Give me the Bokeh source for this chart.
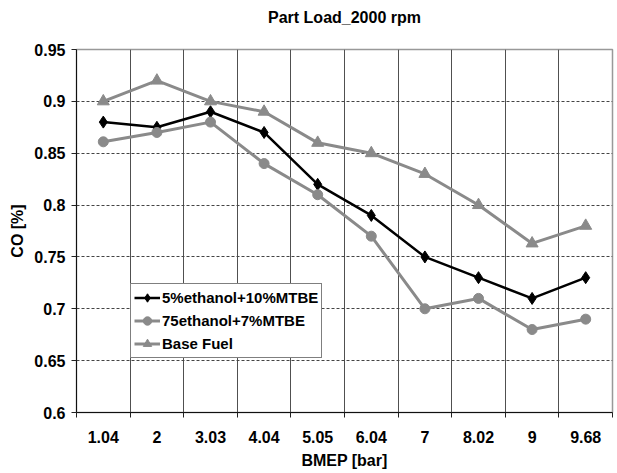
from bokeh.plotting import figure
from bokeh.models import FixedTicker, Range1d, Legend, LegendItem, Title
from bokeh.embed import file_html
from bokeh.resources import INLINE

categories = ["1.04", "2", "3.03", "4.04", "5.05", "6.04", "7", "8.02", "9", "9.68"]
s_mtbe10 = [0.88, 0.875, 0.89, 0.87, 0.82, 0.79, 0.75, 0.73, 0.71, 0.73]
s_mtbe7 = [0.861, 0.87, 0.88, 0.84, 0.81, 0.77, 0.70, 0.71, 0.68, 0.69]
s_base = [0.90, 0.92, 0.90, 0.89, 0.86, 0.85, 0.83, 0.80, 0.763, 0.78]
y_ticks = [0.6, 0.65, 0.7, 0.75, 0.8, 0.85, 0.9, 0.95]
y_labels = ["0.6", "0.65", "0.7", "0.75", "0.8", "0.85", "0.9", "0.95"]

n = len(categories)
xs = [i + 0.5 for i in range(n)]

FONT = "Liberation Sans"

p = figure(frame_width=536, frame_height=363, output_backend="svg", toolbar_location=None,
           x_range=Range1d(0, n), y_range=Range1d(0.6, 0.95),
           min_border_left=76, min_border_right=4, min_border_top=49, min_border_bottom=60)

p.title.text = "Part Load_2000 rpm"
p.title.align = "center"
p.title.text_font = FONT
p.title.text_font_size = "16px"
p.title.text_font_style = "bold"
p.title.text_color = "#000000"
p.title.standoff = 0

# empty spacer between the title and the frame
p.add_layout(Title(text=" ", text_font_size="1px", standoff=21), "above")

p.outline_line_color = "#999999"
p.outline_line_width = 1.5
p.background_fill_color = "white"
p.border_fill_color = "white"

xt = FixedTicker(ticks=xs, minor_ticks=list(range(n + 1)))
p.xaxis.ticker = xt
p.xaxis.major_label_overrides = {x: c for x, c in zip(xs, categories)}
p.xaxis.major_tick_out = 0
p.xaxis.major_tick_in = 0
p.xaxis.minor_tick_out = 5
p.xaxis.minor_tick_in = 0
p.xaxis.minor_tick_line_color = "#222222"
p.xaxis.major_label_standoff = 13
p.xaxis.axis_label = "BMEP [bar]"
p.xaxis.axis_label_standoff = 6

p.yaxis.ticker = FixedTicker(ticks=y_ticks)
p.yaxis.major_label_overrides = {t: l for t, l in zip(y_ticks, y_labels)}
p.yaxis.major_tick_out = 5
p.yaxis.major_tick_in = 0
p.yaxis.minor_tick_line_color = None
p.yaxis.major_label_standoff = 6
p.yaxis.axis_label = "CO [%]"
p.yaxis.axis_label_standoff = 5

for ax in (p.xaxis, p.yaxis):
    ax.axis_line_color = "#111111"
    ax.axis_line_width = 1
    ax.major_tick_line_color = "#222222"
    ax.major_label_text_font = FONT
    ax.major_label_text_font_size = "16px"
    ax.major_label_text_font_style = "bold"
    ax.major_label_text_color = "#000000"
    ax.axis_label_text_font = FONT
    ax.axis_label_text_font_size = "16px"
    ax.axis_label_text_font_style = "bold"
    ax.axis_label_text_color = "#000000"

p.xgrid.ticker = FixedTicker(ticks=list(range(n + 1)))
p.xgrid.grid_line_color = "#505050"
p.xgrid.grid_line_width = 1
p.ygrid.grid_line_color = "#444444"
p.ygrid.grid_line_dash = "3 2"
p.ygrid.grid_line_width = 1

GRAY = "#8a8a8a"

l1 = p.line(xs, s_mtbe10, line_color="#000000", line_width=2.5)
m1 = p.scatter(xs, s_mtbe10, marker="diamond", size=12, fill_color="#000000", line_color="#000000")
l2 = p.line(xs, s_mtbe7, line_color=GRAY, line_width=3)
m2 = p.scatter(xs, s_mtbe7, marker="circle", size=10, fill_color=GRAY, line_color=GRAY)
l3 = p.line(xs, s_base, line_color=GRAY, line_width=3)
m3 = p.scatter(xs, s_base, marker="triangle", size=12, fill_color=GRAY, line_color=GRAY)

legend = Legend(items=[
    LegendItem(label="5%ethanol+10%MTBE", renderers=[l1, m1]),
    LegendItem(label="75ethanol+7%MTBE", renderers=[l2, m2]),
    LegendItem(label="Base Fuel", renderers=[l3, m3]),
], location=(54, 54))
legend.border_line_color = "#000000"
legend.border_line_width = 1
legend.background_fill_color = "white"
legend.background_fill_alpha = 1
legend.label_text_font = FONT
legend.label_text_font_size = "15px"
legend.label_text_font_style = "bold"
legend.label_text_color = "#000000"
legend.glyph_width = 26
legend.glyph_height = 21
legend.label_height = 21
legend.label_standoff = 2
legend.spacing = 2
legend.padding = 3
legend.margin = 0
p.add_layout(legend, "center")

open("out.html", "w").write(file_html(p, INLINE))
